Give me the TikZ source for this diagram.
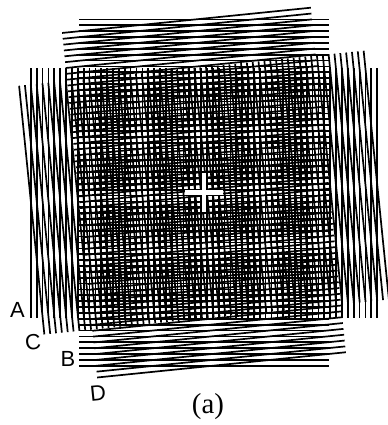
\documentclass[tikz,border=0pt]{standalone}
\usepackage{fontspec}
\setmainfont{Liberation Serif}
\setsansfont{Liberation Sans}
\tikzset{
  gratingline/.style={line width=1.7bp,black,line cap=butt},
  fixationbar/.style={fill=white,draw=none},
  letterlabel/.style={inner sep=0pt,font=\sffamily\fontsize{22}{22}\selectfont},
  caption/.style={inner sep=0pt,font=\rmfamily\fontsize{29}{29}\selectfont}
}
\begin{document}
\begin{tikzpicture}[x=1bp,y=1bp]
\useasboundingbox (0,0) rectangle (388,425);
\fill[white] (0,0) rectangle (388,425);
\begin{scope}[shift={(204,232.4)}]
\foreach \i in {0,...,59}{
  \draw[gratingline] ({(\i-29.5)*5.87},-125) -- ({(\i-29.5)*5.87},125);
  \draw[gratingline] (-125,{(\i-29.5)*5.87}) -- (125,{(\i-29.5)*5.87});
}
\end{scope}
\begin{scope}[shift={(204,232.4)},rotate=5.8]
\foreach \i in {0,...,59}{
  \draw[gratingline] ({(\i-29.5)*5.87},-125) -- ({(\i-29.5)*5.87},125);
  \draw[gratingline] (-125,{(\i-29.5)*5.87}) -- (125,{(\i-29.5)*5.87});
}
\end{scope}
% white central cross
\fill[fixationbar] (201.8,213) rectangle (206.4,252);
\fill[fixationbar] (185,230) rectangle (223,235);
\node[letterlabel] (la) at (17.5,115) {A};
\node[letterlabel,rotate=5.8] (lc) at (33,83) {C};
\node[letterlabel] (lb) at (68,66) {B};
\node[letterlabel,rotate=5.8] (ld) at (98,32) {D};
\node[caption] (cap) at (208,18) {(a)};
\end{tikzpicture}
\end{document}
